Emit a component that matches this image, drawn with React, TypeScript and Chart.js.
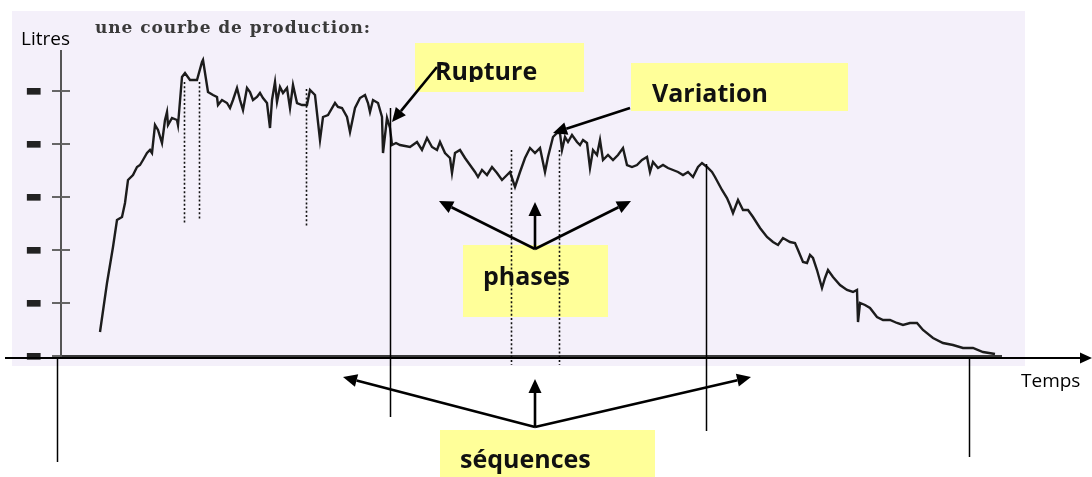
import React, { useEffect, useRef } from 'react';
import { Chart, registerables } from 'chart.js';
Chart.register(...registerables);

// ---- data (time units along x, litres units along y) ----
const time = [
  39, 46, 52, 56, 61, 64, 67, 72, 76, 79,
  82, 86, 89, 91, 94, 97, 101, 104, 106, 107,
  111, 116, 117, 121, 124, 129, 136, 141, 142, 147,
  152, 156, 157, 161, 166, 169, 172, 176, 179, 182,
  186, 189, 192, 196, 199, 202, 206, 209, 211, 214,
  216, 219, 222, 226, 229, 232, 236, 241, 246, 249,
  254, 259, 262, 267, 274, 277, 281, 286, 289, 294,
  299, 304, 307, 309, 312, 317, 321, 322, 326, 329,
  331, 335, 339, 349, 356, 361, 366, 371, 376, 379,
  384, 389, 391, 394, 399, 404, 409, 414, 417, 421,
  426, 431, 436, 441, 446, 449, 454, 459, 464, 469,
  474, 479, 484, 487, 492, 496, 499, 501, 504, 507,
  511, 516, 519, 522, 526, 529, 532, 536, 539, 542,
  547, 552, 557, 562, 566, 571, 576, 581, 586, 589,
  592, 597, 602, 607, 612, 617, 622, 627, 632, 637,
  641, 646, 651, 654, 661, 666, 669, 672, 677, 682,
  687, 692, 699, 706, 712, 717, 722, 729, 734, 737,
  742, 746, 749, 752, 756, 761, 764, 767, 772, 779,
  786, 792, 796, 797, 799, 804, 809, 816, 822, 829,
  836, 842, 849, 856, 862, 872, 882, 892, 902, 912, 922, 934,
];
const litres = [
  24, 73, 109, 136, 139, 153, 176, 181, 189, 191,
  196, 203, 206, 203, 231, 226, 213, 236, 244, 231,
  238, 236, 231, 279, 283, 276, 276, 294, 296, 264,
  261, 259, 251, 256, 253, 248, 256, 268, 256, 246,
  268, 264, 256, 259, 263, 258, 253, 228, 256, 274,
  254, 269, 263, 268, 248, 271, 253, 251, 251, 266,
  261, 216, 239, 241, 253, 249, 248, 239, 224, 248,
  258, 261, 253, 244, 256, 253, 239, 203, 238, 228,
  211, 213, 211, 209, 214, 206, 218, 209, 206, 214,
  203, 198, 183, 203, 206, 198, 191, 184, 179, 186,
  181, 189, 183, 176, 181, 184, 169, 184, 198, 208,
  203, 208, 184, 199, 219, 223, 223, 206, 219, 214,
  221, 214, 211, 216, 213, 188, 206, 201, 216, 196,
  201, 196, 201, 208, 191, 189, 191, 196, 199, 184,
  194, 188, 191, 188, 186, 184, 181, 184, 179, 189,
  193, 189, 184, 179, 166, 158, 151, 143, 156, 146,
  146, 139, 128, 119, 114, 111, 118, 114, 113, 106,
  94, 93, 101, 98, 86, 68, 78, 86, 79, 71,
  66, 64, 66, 34, 53, 51, 48, 39, 36, 36,
  33, 31, 33, 33, 26, 18, 13, 11, 8, 8, 4, 2,
];
const yTicks = [0, 53, 106, 159, 212, 265];
const xRange = [0, 940];
const yRange = [0, 305];

// ---- annotation anchors, in the same data units ----
const dottedTimes = [123, 138, 245, 450, 498];
const dottedTops = [274, 274, 267, 206, 206];
const dottedBottoms = [133, 136, 129, -9, -9];

const sequenceTimes = [-4, 329, 645, 908];
const sequenceTops = [-2, 248, 192, -2];
const sequenceBottoms = [-106, -61, -75, -101];

const boxLabels = ['Rupture', 'Variation', 'phases', 'séquences'];
const boxT0 = [354, 570, 402, 379];
const boxT1 = [523, 787, 547, 594];
const boxL0 = [313, 293, 111, -74];
const boxL1 = [264, 245, 39, -121];
const textT = [374, 591, 422, 399];
const textL = [276, 254, 71, -112];

const arrowFrom = [[376, 289], [569, 248], [474, 107], [474, 107], [474, 107], [474, -71], [474, -71], [474, -71]];
const arrowTo = [[331, 234], [492, 223], [378, 155], [474, 154], [570, 155], [282, -21], [474, -23], [690, -21]];

const timeAxisLine = { from: -56, to: 1031, at: -2 };
const titleText = 'une courbe de production:';
const yAxisLabel = 'Litres';
const xAxisLabel = 'Temps';

function drawArrow(ctx: CanvasRenderingContext2D, x1: number, y1: number, x2: number, y2: number, L = 14, W = 6) {
  const a = Math.atan2(y2 - y1, x2 - x1);
  const bx = x2 - L * Math.cos(a);
  const by = y2 - L * Math.sin(a);
  ctx.beginPath();
  ctx.moveTo(x1, y1);
  ctx.lineTo(bx, by);
  ctx.stroke();
  ctx.beginPath();
  ctx.moveTo(x2, y2);
  ctx.lineTo(bx + W * Math.sin(a), by - W * Math.cos(a));
  ctx.lineTo(bx - W * Math.sin(a), by + W * Math.cos(a));
  ctx.closePath();
  ctx.fill();
}

const annotPlugin = {
  id: 'annot',
  beforeDraw(chart: any) {
    const { ctx, scales } = chart;
    const X = (v: number) => scales.x.getPixelForValue(v);
    const Y = (v: number) => scales.y.getPixelForValue(v);
    ctx.save();
    ctx.fillStyle = '#f4f0fa';
    ctx.fillRect(X(-49), Y(345), X(964) - X(-49), Y(-10) - Y(345));
    ctx.restore();
  },
  afterDraw(chart: any) {
    const { ctx, scales } = chart;
    const X = (v: number) => scales.x.getPixelForValue(v);
    const Y = (v: number) => scales.y.getPixelForValue(v);
    ctx.save();

    // inner half of the y-axis tick marks
    ctx.strokeStyle = '#666';
    ctx.lineWidth = 2;
    yTicks.forEach((v) => {
      if (v === 0) return;
      ctx.beginPath();
      ctx.moveTo(X(0), Y(v));
      ctx.lineTo(X(9), Y(v));
      ctx.stroke();
    });

    // title of the scanned figure
    ctx.fillStyle = '#3a3a3a';
    ctx.font = 'bold 17px "DejaVu Serif"';
    ctx.textBaseline = 'alphabetic';
    ctx.textAlign = 'left';
    const w0 = ctx.measureText(titleText).width;
    const sp = Math.max(0, (275 - w0) / (titleText.length - 1));
    (ctx as any).letterSpacing = sp + 'px';
    ctx.fillText(titleText, X(34), Y(323));
    (ctx as any).letterSpacing = '0px';

    // yellow boxes
    ctx.fillStyle = '#ffff99';
    boxLabels.forEach((_, i) => {
      ctx.fillRect(X(boxT0[i]), Y(boxL0[i]), X(boxT1[i]) - X(boxT0[i]), Y(boxL1[i]) - Y(boxL0[i]));
    });

    // dotted phase lines
    ctx.strokeStyle = '#111';
    ctx.lineWidth = 1.6;
    ctx.setLineDash([2, 2.2]);
    dottedTimes.forEach((t, i) => {
      ctx.beginPath();
      ctx.moveTo(Math.round(X(t)) + 0.5, Y(dottedTops[i]));
      ctx.lineTo(Math.round(X(t)) + 0.5, Y(dottedBottoms[i]));
      ctx.stroke();
    });
    ctx.setLineDash([]);

    // sequence boundaries
    ctx.strokeStyle = '#000';
    ctx.lineWidth = 1.5;
    sequenceTimes.forEach((t, i) => {
      ctx.beginPath();
      ctx.moveTo(Math.round(X(t)) + 0.5, Y(sequenceTops[i]));
      ctx.lineTo(Math.round(X(t)) + 0.5, Y(sequenceBottoms[i]));
      ctx.stroke();
    });

    // time axis with arrow
    ctx.fillStyle = '#000';
    ctx.lineWidth = 2.2;
    drawArrow(ctx, X(timeAxisLine.from), Y(timeAxisLine.at), X(timeAxisLine.to), Y(timeAxisLine.at), 12, 5.5);

    // annotation arrows
    ctx.lineWidth = 2.6;
    arrowFrom.forEach((f, i) => {
      drawArrow(ctx, X(f[0]), Y(f[1]), X(arrowTo[i][0]), Y(arrowTo[i][1]), 14, 6.5);
    });

    // box texts
    ctx.fillStyle = '#111';
    ctx.font = 'bold 25px "Open Sans"';
    boxLabels.forEach((s, i) => {
      ctx.save();
      if (i === 0) {
        ctx.beginPath();
        ctx.rect(X(boxT0[i]), Y(boxL0[i]), X(boxT1[i]) - X(boxT0[i]), Y(boxL0[i] - 39) - Y(boxL0[i]));
        ctx.clip();
      }
      ctx.fillText(s, X(textT[i]), Y(textL[i]));
      ctx.restore();
    });

    // axis labels
    ctx.font = '19px "Open Sans"';
    ctx.fillStyle = '#000';
    ctx.fillText(yAxisLabel, X(-40), Y(311));
    ctx.fillText(xAxisLabel, X(960), Y(-31));

    ctx.restore();
  },
};

export default function App() {
  const ref = useRef<HTMLCanvasElement>(null);
  useEffect(() => {
    const points = time.map((t, i) => ({ x: t, y: litres[i] }));
    const chart = new Chart(ref.current as HTMLCanvasElement, {
      type: 'line',
      data: {
        datasets: [
          {
            label: 'Production',
            data: points,
            borderColor: '#1c1c1c',
            borderWidth: 2.4,
            pointRadius: 0,
            tension: 0,
            fill: false,
          },
        ],
      },
      options: {
        animation: false,
        responsive: false,
        devicePixelRatio: 1,
        layout: { padding: { left: 0, top: 51, right: 91, bottom: 121 } },
        plugins: { legend: { display: false }, tooltip: { enabled: false }, title: { display: false } },
        scales: {
          x: {
            type: 'linear',
            min: xRange[0],
            max: xRange[1],
            ticks: { display: false },
            grid: { display: false },
            border: { display: true, color: '#3a3a3a', width: 3 },
            afterFit: (s: any) => { s.height = 0; },
          },
          y: {
            type: 'linear',
            min: yRange[0],
            max: yRange[1],
            afterBuildTicks: (s: any) => { s.ticks = yTicks.map((v) => ({ value: v })); },
            ticks: {
              callback: () => '▬',
              color: '#222',
              padding: 10,
              font: { family: 'DejaVu Sans', size: 18 },
            },
            grid: { drawOnChartArea: false, tickLength: 9, color: '#666', lineWidth: 2 },
            border: { display: true, color: '#555', width: 2 },
            afterFit: (s: any) => { s.width = 61; },
          },
        },
      },
      plugins: [annotPlugin],
    });
    return () => chart.destroy();
  }, []);
  return (
    <div style={{ position: 'absolute', left: 0, top: 0, width: 1092, height: 477, background: '#fff' }}>
      <canvas ref={ref} width={1092} height={477} style={{ display: 'block' }} />
    </div>
  );
}
